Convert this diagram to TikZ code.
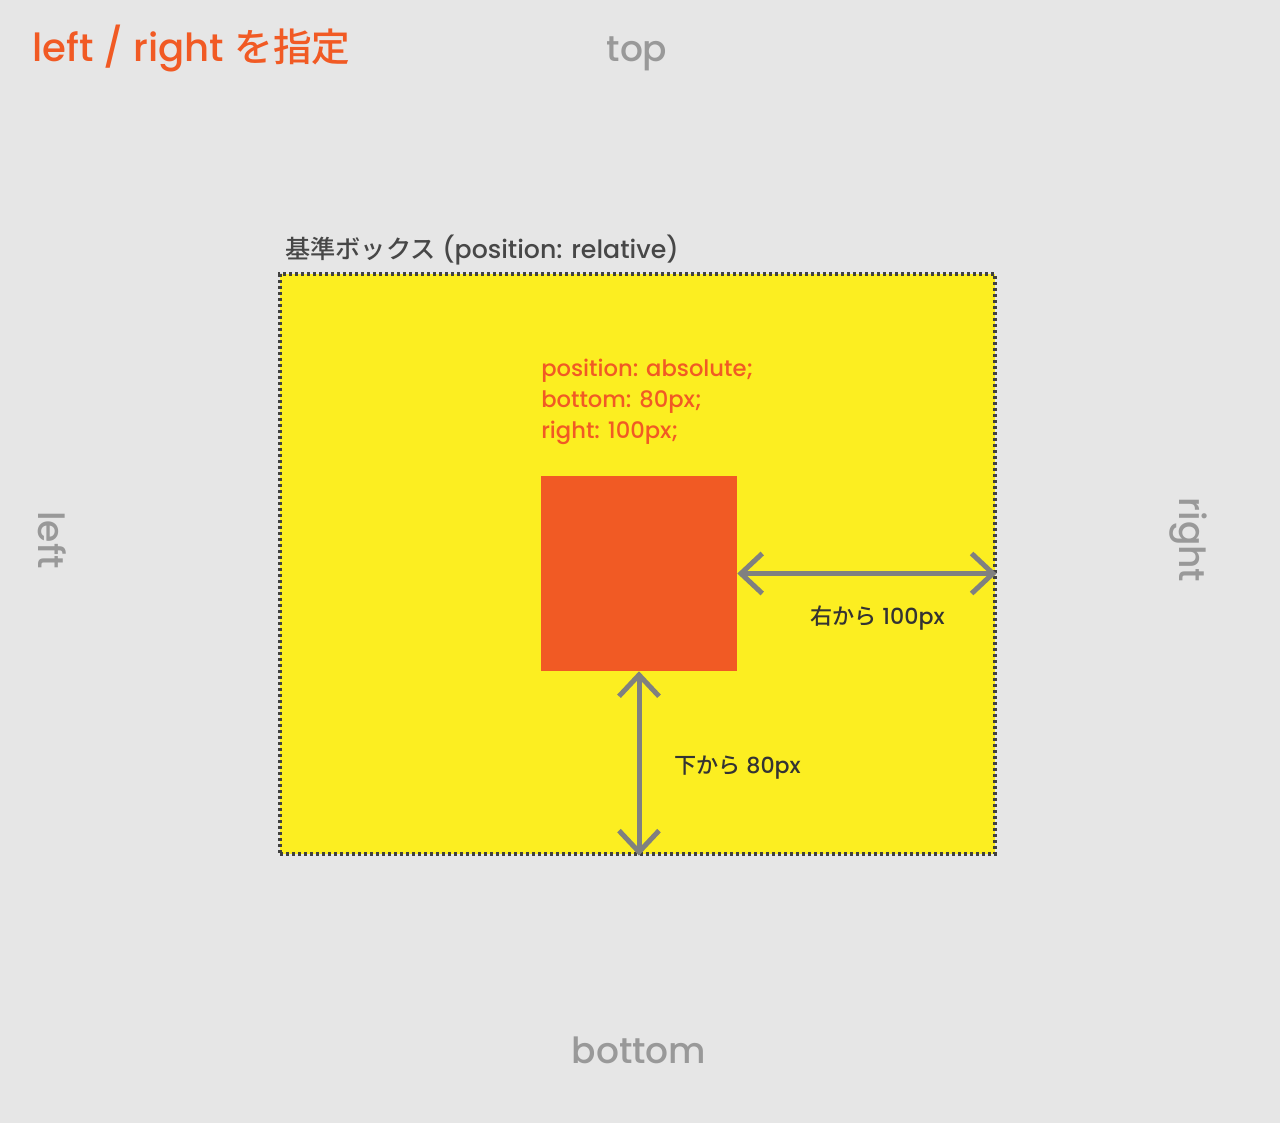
\documentclass[tikz,border=0pt]{standalone}
\usepackage{fontspec}
\setmainfont{Poppins Medium}
\newfontfamily\jp{Noto Sans CJK JP Medium}
\usetikzlibrary{positioning,arrows.meta}

\definecolor{bgGray}{HTML}{E6E6E6}
\definecolor{baseYellow}{HTML}{FCEE21}
\definecolor{absOrange}{HTML}{F15A24}
\definecolor{arrowGray}{HTML}{808080}
\definecolor{sideGray}{HTML}{999999}
\definecolor{textDark}{HTML}{333333}
\definecolor{dotGray}{HTML}{404040}

\begin{document}
\begin{tikzpicture}[x=0.75pt,y=-0.75pt,
    side/.style={text=sideGray, font=\fontsize{27}{32}\selectfont, inner sep=0, anchor=base},
    measure/.style={draw=arrowGray, line width=3.75pt,
        {Straight Barb[length=16pt,width=30pt]}-{Straight Barb[length=16pt,width=30pt]}},
    note/.style={text=textDark, font=\fontsize{16.6}{20}\selectfont, inner sep=0, anchor=base west}]
    \useasboundingbox (0,0) rectangle (1280,1123);
    \fill[bgGray] (0,0) rectangle (1280,1123);

    % title and side labels
    \node[anchor=base west, text=absOrange, inner sep=0, font=\fontsize{29}{34}\selectfont] (title)
        at (32,62) {left / right {\jp を指定}};
    \node[side] (top) at (637,62) {top};
    \node[side] (bottom) at (639,1063) {bottom};
    \node[side, rotate=-90] (left) at (38,540) {left};
    \node[side, rotate=-90] (right) at (1179,540) {right};

    % base box and absolute box
    \node[fill=baseYellow, draw=dotGray, line width=2.4pt, dash pattern=on 2.4pt off 2.1pt,
        minimum width=536.25pt, minimum height=435pt, inner sep=0] (base) at (637.5,564) {};
    \node[anchor=base west, text=textDark!90!white, inner sep=0, font=\fontsize{18.9}{22}\selectfont] (baselbl)
        at (285,258) {{\jp 基準ボックス} (position: relative)};
    \node[fill=absOrange, minimum width=147pt, minimum height=146.25pt, inner sep=0] (abs) at (639,573.5) {};
    \foreach \y/\txt in {376/position: absolute;, 407/bottom: 80px;, 438/right: 100px;} {
        \node[anchor=base west, text=absOrange, inner sep=0, font=\fontsize{17}{20}\selectfont] (code\y)
            at (541,\y) {\txt};
    }

    % distances
    \draw[measure] (abs.east) -- (abs.east -| base.east);
    \draw[measure] (abs.south) -- (abs.south |- base.south);
    \node[note] (rightlbl) at (810,624) {{\jp 右から} 100px};
    \node[note] (bottomlbl) at (674,773) {{\jp 下から} 80px};
\end{tikzpicture}
\end{document}
